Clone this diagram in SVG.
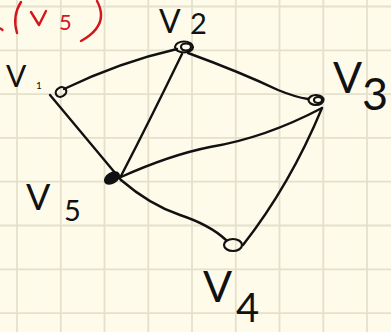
<svg xmlns="http://www.w3.org/2000/svg" width="391" height="332" viewBox="0 0 391 332">
<defs>
<style>
.grid line{stroke:#e4e0cc;stroke-width:1.8}
.edge{fill:none;stroke:#111;stroke-width:2.4;stroke-linecap:round}
.node{fill:none;stroke:#111;stroke-width:2.2}
.lbl{font-family:Lato,"Liberation Sans",sans-serif;font-weight:400;fill:#111}
.red{font-family:Lato,"Liberation Sans",sans-serif;font-weight:400;fill:#d4161c}
</style>
</defs>
<rect width="391" height="332" fill="#fefbeb"/>
<g class="grid">
<line x1="17" y1="0" x2="17" y2="332"/>
<line x1="60.8" y1="0" x2="60.8" y2="332"/>
<line x1="104.5" y1="0" x2="104.5" y2="332"/>
<line x1="148.3" y1="0" x2="148.3" y2="332"/>
<line x1="192" y1="0" x2="192" y2="332"/>
<line x1="235.8" y1="0" x2="235.8" y2="332"/>
<line x1="279.5" y1="0" x2="279.5" y2="332"/>
<line x1="323.3" y1="0" x2="323.3" y2="332"/>
<line x1="367" y1="0" x2="367" y2="332"/>
<line x1="0" y1="6.5" x2="391" y2="6.5"/>
<line x1="0" y1="50.3" x2="391" y2="50.3"/>
<line x1="0" y1="94.1" x2="391" y2="94.1"/>
<line x1="0" y1="137.9" x2="391" y2="137.9"/>
<line x1="0" y1="181.7" x2="391" y2="181.7"/>
<line x1="0" y1="225.5" x2="391" y2="225.5"/>
<line x1="0" y1="269.3" x2="391" y2="269.3"/>
<line x1="0" y1="313.1" x2="391" y2="313.1"/>
</g>
<g id="heading">
<path d="M0.5,28.5 L2.5,30" stroke="#d4161c" stroke-width="2.2" fill="none" stroke-linecap="round"/>
<path d="M21,2 Q12,16 17,33" stroke="#d4161c" stroke-width="2.4" fill="none" stroke-linecap="round"/>
<path d="M31,12 L39,25 L46,11" stroke="#d4161c" stroke-width="2.4" fill="none" stroke-linecap="round" stroke-linejoin="round"/>
<text class="red" x="59" y="30" font-size="22">5</text>
<path d="M97,1 Q110,25 81,41" stroke="#d4161c" stroke-width="2.4" fill="none" stroke-linecap="round"/>
</g>
<g id="connectors">
<path class="edge" d="M64,89 Q120,62 177,49"/>
<path class="edge" d="M188,53 Q240,72 278,90 Q295,97 308,99"/>
<path class="edge" d="M182,54 Q150,120 121,176"/>
<path class="edge" d="M50,95 L121,180"/>
<path class="edge" d="M121,177 Q170,155 210,147 Q265,138 322,108"/>
<path class="edge" d="M121,180 Q150,205 180,215 Q210,225 226,240"/>
<path class="edge" d="M243,245 Q290,185 322,108"/>
</g>
<g id="v1">
<ellipse class="node" cx="61" cy="92" rx="5.5" ry="4.5" transform="rotate(-30 61 92)"/>
<text class="lbl" x="6" y="87" font-size="30">V</text>
<text class="lbl" x="36" y="89" font-size="10">1</text>
</g>
<g id="v2">
<ellipse class="node" cx="184" cy="47" rx="9" ry="5.5"/>
<ellipse class="node" cx="186" cy="47" rx="5" ry="3.5"/>
<text class="lbl" x="159" y="33" font-size="32">V</text>
<text class="lbl" x="190" y="34" font-size="29">2</text>
</g>
<g id="v3">
<ellipse class="node" cx="316" cy="100" rx="7.5" ry="5"/>
<ellipse class="node" cx="318" cy="100" rx="4" ry="3"/>
<text class="lbl" x="333" y="93" font-size="43">V</text>
<text class="lbl" x="362" y="110" font-size="45">3</text>
</g>
<g id="v5">
<ellipse cx="112" cy="178" rx="8" ry="5" transform="rotate(-30 112 178)" fill="#111" stroke="#111" stroke-width="1.5"/>
<text class="lbl" x="26" y="210" font-size="36">V</text>
<text class="lbl" x="64" y="221" font-size="29">5</text>
</g>
<g id="v4">
<ellipse class="node" cx="233" cy="245" rx="9" ry="6"/>
<text class="lbl" x="203" y="302" font-size="43">V</text>
<text class="lbl" x="236" y="322" font-size="40">4</text>
</g>
</svg>
